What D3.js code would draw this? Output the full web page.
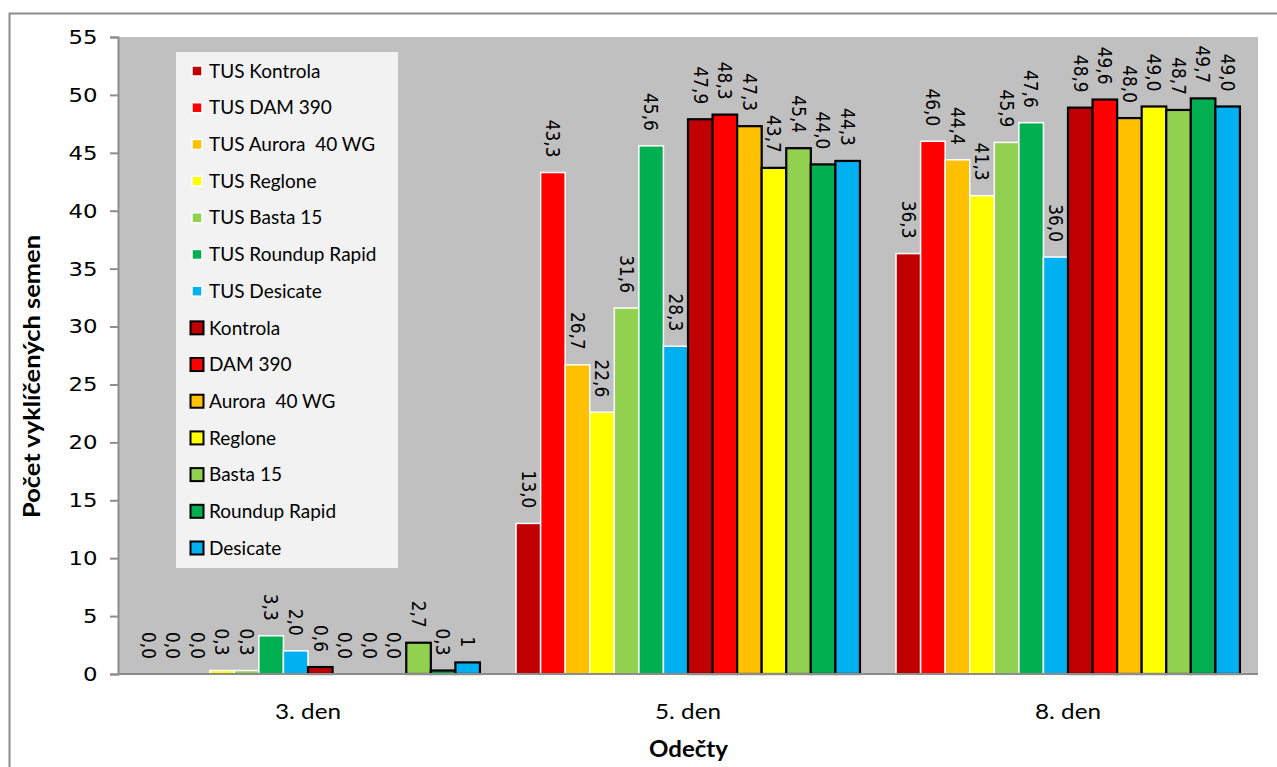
<!DOCTYPE html>
<head>
    <meta charset="utf-8">
    <title>Počet vyklíčených semen</title>
    <style>
        body { margin: 0; background: #fff; }
        text { fill: #000; }
    </style>
</head>
<body>

<script src="https://cdn.jsdelivr.net/npm/d3@7/dist/d3.min.js"></script>

<script>

    // categories on the x axis
    var categories = ["3. den", "5. den", "8. den"];

    // series, in legend / bar order
    var seriesNames = ["TUS Kontrola", "TUS DAM 390", "TUS Aurora  40 WG", "TUS Reglone",
        "TUS Basta 15", "TUS Roundup Rapid", "TUS Desicate",
        "Kontrola", "DAM 390", "Aurora  40 WG", "Reglone", "Basta 15", "Roundup Rapid", "Desicate"];

    var seriesColors = ["#C00000", "#FF0000", "#FFC000", "#FFFF00", "#92D050", "#00B050", "#00B0F0",
        "#C00000", "#FF0000", "#FFC000", "#FFFF00", "#92D050", "#00B050", "#00B0F0"];

    // values per series for 3. den, 5. den, 8. den
    var tusKontrola = [0.0, 13.0, 36.3];
    var tusDam = [0.0, 43.3, 46.0];
    var tusAurora = [0.0, 26.7, 44.4];
    var tusReglone = [0.3, 22.6, 41.3];
    var tusBasta = [0.3, 31.6, 45.9];
    var tusRoundup = [3.3, 45.6, 47.6];
    var tusDesicate = [2.0, 28.3, 36.0];
    var kontrola = [0.6, 47.9, 48.9];
    var dam = [0.0, 48.3, 49.6];
    var aurora = [0.0, 47.3, 48.0];
    var reglone = [0.0, 43.7, 49.0];
    var basta = [2.7, 45.4, 48.7];
    var roundup = [0.3, 44.0, 49.7];
    var desicate = [1, 44.3, 49.0];

    var seriesValues = [tusKontrola, tusDam, tusAurora, tusReglone, tusBasta, tusRoundup, tusDesicate,
        kontrola, dam, aurora, reglone, basta, roundup, desicate];

    // the one label Excel showed without a decimal
    var plainLabels = [["Desicate", "3. den"]];

    var yTicks = [0, 5, 10, 15, 20, 25, 30, 35, 40, 45, 50, 55];

    var W = 1277, H = 767;
    var plot = {left: 118, top: 37, right: 1258, bottom: 674};

    var svg = d3.select("body").append("svg")
        .attr("width", W)
        .attr("height", H);

    // outer chart frame (runs off the right and bottom of the picture)
    svg.append("rect")
        .attr("x", 9.5).attr("y", 13.5)
        .attr("width", W + 20).attr("height", H + 20)
        .attr("fill", "none")
        .attr("stroke", "#8c8c8c")
        .attr("stroke-width", 2);

    var x0 = d3.scaleBand()
        .domain(categories)
        .range([plot.left, plot.right])
        .paddingInner(0.095)
        .paddingOuter(0.0475);

    var x1 = d3.scaleBand()
        .domain(seriesNames)
        .range([0, x0.bandwidth()]);

    var y = d3.scaleLinear()
        .domain([0, 55])
        .range([plot.bottom, plot.top]);

    // plot background
    svg.append("rect")
        .attr("x", plot.left).attr("y", plot.top)
        .attr("width", plot.right - plot.left)
        .attr("height", plot.bottom - plot.top)
        .attr("fill", "#C0C0C0");

    var rows = [];
    seriesNames.forEach(function(name, i) {
        categories.forEach(function(cat, j) {
            rows.push({series: name, cat: cat, value: seriesValues[i][j], color: seriesColors[i], tus: i < 7});
        });
    });

    var fmt = function(d) {
        var plain = plainLabels.some(function(p) { return p[0] === d.series && p[1] === d.cat; });
        return plain ? String(d.value) : d.value.toFixed(1).replace(".", ",");
    };

    svg.append("g").selectAll("rect")
        .data(rows)
        .enter().append("rect")
        .attr("x", function(d) { return x0(d.cat) + x1(d.series); })
        .attr("y", function(d) { return y(d.value); })
        .attr("width", x1.bandwidth())
        .attr("height", function(d) { return y(0) - y(d.value); })
        .attr("fill", function(d) { return d.color; })
        .attr("stroke", function(d) { return d.tus ? "#fff" : "#000"; })
        .attr("stroke-width", function(d) { return d.tus ? 1.5 : 2.2; });

    // rotated value labels
    svg.append("g").selectAll("text")
        .data(rows)
        .enter().append("text")
        .attr("transform", function(d) {
            var cx = x0(d.cat) + x1(d.series) + x1.bandwidth() / 2;
            return "translate(" + cx + "," + (y(d.value) - 15) + ") rotate(90) scale(1,1.12)";
        })
        .attr("text-anchor", "end")
        .attr("dy", "0.35em")
        .style("font-family", "DejaVu Sans")
        .style("font-size", "17px")
        .text(fmt);

    // y axis
    var yAxis = d3.axisLeft(y)
        .tickValues(yTicks)
        .tickSize(8)
        .tickPadding(10)
        .tickFormat(d3.format("d"));

    var gy = svg.append("g")
        .attr("transform", "translate(" + plot.left + ",0)")
        .call(yAxis);
    gy.select(".domain").attr("stroke", "#8c8c8c").attr("stroke-width", 2);
    gy.selectAll(".tick line").attr("stroke", "#8c8c8c").attr("stroke-width", 2);
    gy.selectAll(".tick text")
        .attr("transform", "scale(1.14,1)")
        .style("font-family", "DejaVu Sans")
        .style("font-size", "20px")
        .attr("fill", "#000");

    // x axis
    var xAxis = d3.axisBottom(x0)
        .tickSize(0)
        .tickPadding(29);

    var gx = svg.append("g")
        .attr("transform", "translate(0," + plot.bottom + ")")
        .call(xAxis);
    gx.select(".domain")
        .attr("d", "M" + plot.left + ",0H" + plot.right)
        .attr("stroke", "#8c8c8c").attr("stroke-width", 2);
    gx.selectAll(".tick text")
        .style("font-family", "Lato")
        .style("font-size", "22px")
        .attr("x", -33)
        .attr("textLength", 66)
        .attr("lengthAdjust", "spacingAndGlyphs")
        .attr("text-anchor", "start")
        .attr("fill", "#000");

    // axis titles
    svg.append("text")
        .attr("x", 649)
        .attr("y", 757)
        .attr("textLength", 79)
        .attr("lengthAdjust", "spacingAndGlyphs")
        .style("font-family", "Lato")
        .style("font-weight", "bold")
        .style("font-size", "23px")
        .text("Odečty");

    svg.append("text")
        .attr("transform", "translate(40,518) rotate(-90)")
        .attr("textLength", 283)
        .attr("lengthAdjust", "spacingAndGlyphs")
        .style("font-family", "Lato")
        .style("font-weight", "bold")
        .style("font-size", "22px")
        .text("Počet vyklíčených semen");

    // legend
    var legend = svg.append("g");
    legend.append("rect")
        .attr("x", 176).attr("y", 52)
        .attr("width", 222).attr("height", 516)
        .attr("fill", "#F2F2F2");

    var legendY = d3.scalePoint()
        .domain(seriesNames)
        .range([71, 548]);

    seriesNames.forEach(function(name, i) {
        var row = legend.append("g")
            .attr("transform", "translate(0," + legendY(name) + ")");
        var tus = i < 7;
        var s = tus ? 10 : 13;
        row.append("rect")
            .attr("x", 197 - s / 2).attr("y", -s / 2)
            .attr("width", s).attr("height", s)
            .attr("fill", seriesColors[i])
            .attr("stroke", tus ? "#fff" : "#000")
            .attr("stroke-width", tus ? 1.5 : 2);
        row.append("text")
            .attr("x", 209)
            .attr("dy", "0.35em")
            .style("font-family", "Lato")
            .style("font-size", "19px")
            .style("white-space", "pre")
            .text(name);
    });

</script>

</body>
